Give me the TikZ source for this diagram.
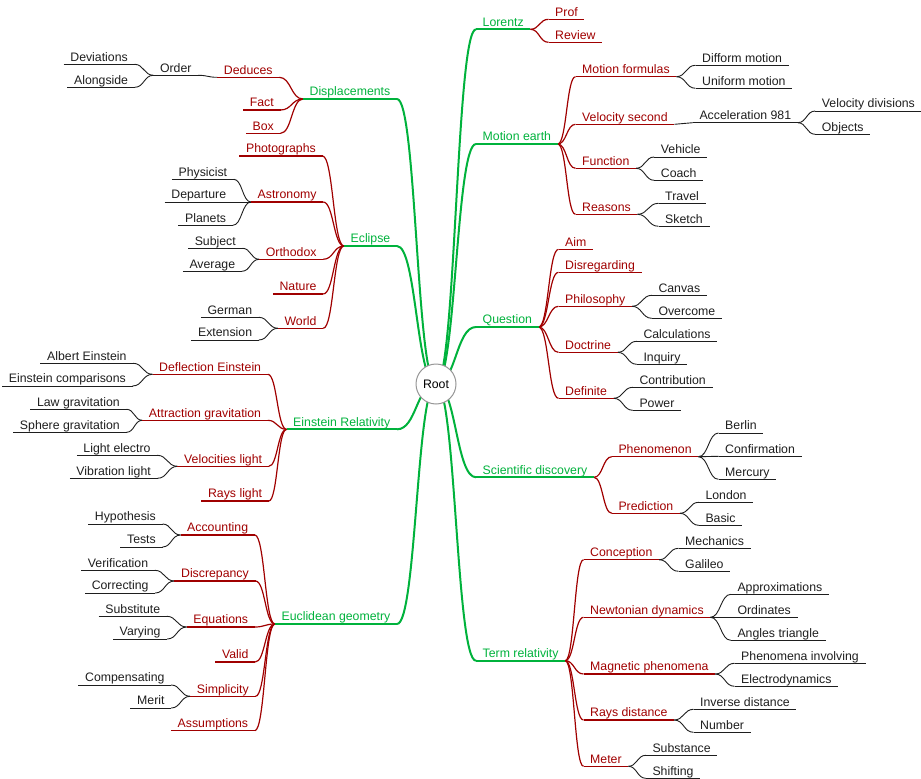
\documentclass[tikz,border=0pt]{standalone}
\usepackage{fontspec}
\setmainfont{Liberation Sans}
\usetikzlibrary{calc}
\pgfdeclarelayer{bg}
\pgfsetlayers{bg,main}
\definecolor{mmgreen}{RGB}{0,178,60}
\definecolor{mmred}{RGB}{160,0,0}
\definecolor{mmblack}{RGB}{30,30,30}
\definecolor{mmgray}{RGB}{150,150,150}
\tikzset{
  basenode/.style={inner xsep=6.5pt, inner ysep=0pt, text height=9pt, text depth=3pt, font=\fontsize{12.3}{14}\selectfont},
  gline/.style={draw=mmgreen, line width=2pt},
  rline/.style={draw=mmred, line width=1.2pt},
  kline/.style={draw=mmblack, line width=0.9pt},
  gn/.style={basenode, text=mmgreen, append after command={(\tikzlastnode.south west) edge[gline] (\tikzlastnode.south east)}},
  rn/.style={basenode, text=mmred, append after command={(\tikzlastnode.south west) edge[rline] (\tikzlastnode.south east)}},
  kn/.style={basenode, text=mmblack, append after command={(\tikzlastnode.south west) edge[kline] (\tikzlastnode.south east)}},
  rt/.style={anchor=south west},
  lf/.style={anchor=south east},
  rootnode/.style={circle, draw=mmgray, fill=white, line width=1pt, minimum size=40pt, inner sep=0pt, text=black, font=\fontsize{12.3}{14}\selectfont},
}
\newcommand\lnk[3]{\begin{pgfonlayer}{bg}\draw[#1] let \p1=(#2), \p2=(#3), \p3=($(\p1)!0.5!(\p2)$) in (\p1) .. controls (\x3,\y1) and (\x3,\y2) .. (\p2);\end{pgfonlayer}}
\newcommand\Rk[3]{\lnk{#1}{#2.south east}{#3.south west}}
\newcommand\Lk[3]{\lnk{#1}{#2.south west}{#3.south east}}
\begin{document}
\begin{tikzpicture}[x=1pt,y=-1pt]
\useasboundingbox (0,0) rectangle (921,779);
\node[rootnode] (root) at (436,384) {Root};
% ---------- right side ----------
\node[gn,rt] (lor) at (476,29.3) {Lorentz};
\node[gn,rt] (moe) at (476,144) {Motion earth};
\node[gn,rt] (que) at (476,327) {Question};
\node[gn,rt] (sci) at (476,477.3) {Scientific discovery};
\node[gn,rt] (ter) at (476,660.7) {Term relativity};
% Lorentz
\node[rn,rt] (prof) at (548.5,19.3) {Prof};
\node[rn,rt] (rev) at (548.5,42.3) {Review};
% Motion earth
\node[rn,rt] (mf) at (575.5,76.7) {Motion formulas};
\node[rn,rt] (vs) at (575.5,124.3) {Velocity second};
\node[rn,rt] (fn) at (575.5,168.3) {Function};
\node[rn,rt] (rs) at (575.5,214.3) {Reasons};
\node[kn,rt] (dm) at (695.5,65.3) {Difform motion};
\node[kn,rt] (um) at (695.5,88.3) {Uniform motion};
\node[kn,rt] (acc) at (692.8,122.7) {Acceleration 981};
\node[kn,rt] (vd) at (815.2,111) {Velocity divisions};
\node[kn,rt] (obj) at (815.2,134.3) {Objects};
\node[kn,rt] (veh) at (654.2,157) {Vehicle};
\node[kn,rt] (coa) at (654.2,180.3) {Coach};
\node[kn,rt] (tra) at (658.5,203.3) {Travel};
\node[kn,rt] (ske) at (658.5,226.3) {Sketch};
% Question
\node[rn,rt] (aim) at (558.5,249.3) {Aim};
\node[rn,rt] (dsr) at (558.5,272.3) {Disregarding};
\node[rn,rt] (phi) at (558.5,306.3) {Philosophy};
\node[rn,rt] (doc) at (558.5,352.3) {Doctrine};
\node[rn,rt] (def) at (558.5,398.3) {Definite};
\node[kn,rt] (can) at (651.8,295.3) {Canvas};
\node[kn,rt] (ove) at (651.8,318.3) {Overcome};
\node[kn,rt] (cal) at (636.8,341.3) {Calculations};
\node[kn,rt] (inq) at (636.8,364.3) {Inquiry};
\node[kn,rt] (con) at (632.8,387.3) {Contribution};
\node[kn,rt] (pow) at (632.8,410.3) {Power};
% Scientific discovery
\node[rn,rt] (phe) at (611.8,456.7) {Phenomenon};
\node[rn,rt] (pre) at (611.8,513.3) {Prediction};
\node[kn,rt] (ber) at (718.5,433) {Berlin};
\node[kn,rt] (cnf) at (718.5,456.3) {Confirmation};
\node[kn,rt] (mer) at (718.5,479.3) {Mercury};
\node[kn,rt] (lon) at (698.8,502.3) {London};
\node[kn,rt] (bas) at (698.8,525.3) {Basic};
% Term relativity
\node[rn,rt] (cpt) at (583.5,559.7) {Conception};
\node[rn,rt] (nd) at (583.5,617.3) {Newtonian dynamics};
\node[rn,rt] (mp) at (583.5,674) {Magnetic phenomena};
\node[rn,rt] (rd) at (583.5,720) {Rays distance};
\node[rn,rt] (met) at (583.5,766.3) {Meter};
\node[kn,rt] (mec) at (678.5,548.3) {Mechanics};
\node[kn,rt] (gal) at (678.5,571.3) {Galileo};
\node[kn,rt] (app) at (730.8,594.3) {Approximations};
\node[kn,rt] (ord) at (730.8,617.3) {Ordinates};
\node[kn,rt] (ang) at (730.8,640.3) {Angles triangle};
\node[kn,rt] (pin) at (734.5,663.3) {Phenomena involving};
\node[kn,rt] (ele) at (734.5,686.3) {Electrodynamics};
\node[kn,rt] (inv) at (693.5,709.3) {Inverse distance};
\node[kn,rt] (num) at (693.5,732.3) {Number};
\node[kn,rt] (sub) at (645.8,755.3) {Substance};
\node[kn,rt] (shi) at (645.8,778.3) {Shifting};
% ---------- left side ----------
\node[gn,lf] (dis) at (397,99) {Displacements};
\node[gn,lf] (ecl) at (397,246) {Eclipse};
\node[gn,lf] (ein) at (397,429.3) {Einstein Relativity};
\node[gn,lf] (euc) at (397,624) {Euclidean geometry};
% Displacements
\node[rn,lf] (ded) at (279.2,77.3) {Deduces};
\node[rn,lf] (fac) at (280.5,110) {Fact};
\node[rn,lf] (box) at (280.5,133.3) {Box};
\node[kn,lf] (ord2) at (198.2,75.3) {Order};
\node[kn,lf] (dev) at (134.5,64.3) {Deviations};
\node[kn,lf] (alo) at (134.8,87.3) {Alongside};
% Eclipse
\node[rn,lf] (pho) at (322.5,156) {Photographs};
\node[rn,lf] (ast) at (323.2,202) {Astronomy};
\node[rn,lf] (ort) at (323.2,259.3) {Orthodox};
\node[rn,lf] (nat) at (323.2,294) {Nature};
\node[rn,lf] (wor) at (323.2,328.3) {World};
\node[kn,lf] (phy) at (233.8,179.3) {Physicist};
\node[kn,lf] (dep) at (232.8,202) {Departure};
\node[kn,lf] (pla) at (232.8,225.3) {Planets};
\node[kn,lf] (sbj) at (242.5,248.3) {Subject};
\node[kn,lf] (ave) at (241.8,271.3) {Average};
\node[kn,lf] (ger) at (258.8,317.3) {German};
\node[kn,lf] (ext) at (258.8,340) {Extension};
% Einstein Relativity
\node[rn,lf] (dfe) at (267.8,374.3) {Deflection Einstein};
\node[rn,lf] (atg) at (267.8,420.3) {Attraction gravitation};
\node[rn,lf] (vel) at (268.8,466.3) {Velocities light};
\node[rn,lf] (ral) at (268.8,501) {Rays light};
\node[kn,lf] (alb) at (133.2,363.3) {Albert Einstein};
\node[kn,lf] (eco) at (132.5,386) {Einstein comparisons};
\node[kn,lf] (law) at (126.5,409.3) {Law gravitation};
\node[kn,lf] (sph) at (126.5,432.3) {Sphere gravitation};
\node[kn,lf] (lel) at (157.2,455.3) {Light electro};
\node[kn,lf] (vib) at (157.5,478.3) {Vibration light};
% Euclidean geometry
\node[rn,lf] (acn) at (254.8,535) {Accounting};
\node[rn,lf] (dcr) at (255.5,581) {Discrepancy};
\node[rn,lf] (equ) at (254.8,627) {Equations};
\node[rn,lf] (val) at (255.2,662) {Valid};
\node[rn,lf] (sim) at (255.5,696.3) {Simplicity};
\node[rn,lf] (asm) at (254.8,730.7) {Assumptions};
\node[kn,lf] (hyp) at (162.5,524) {Hypothesis};
\node[kn,lf] (tes) at (162.5,547) {Tests};
\node[kn,lf] (ver) at (154.8,570.3) {Verification};
\node[kn,lf] (cor) at (155.2,593) {Correcting};
\node[kn,lf] (sbt) at (166.8,616.3) {Substitute};
\node[kn,lf] (vry) at (167.2,639) {Varying};
\node[kn,lf] (cmp) at (171.2,685) {Compensating};
\node[kn,lf] (mrt) at (171.2,708) {Merit};
% ---------- connectors ----------
\lnk{gline}{root.center}{lor.south west}
\lnk{gline}{root.center}{moe.south west}
\lnk{gline}{root.center}{que.south west}
\lnk{gline}{root.center}{sci.south west}
\lnk{gline}{root.center}{ter.south west}
\lnk{gline}{root.center}{dis.south east}
\lnk{gline}{root.center}{ecl.south east}
\lnk{gline}{root.center}{ein.south east}
\lnk{gline}{root.center}{euc.south east}
\Rk{rline}{lor}{prof}\Rk{rline}{lor}{rev}
\Rk{rline}{moe}{mf}\Rk{rline}{moe}{vs}\Rk{rline}{moe}{fn}\Rk{rline}{moe}{rs}
\Rk{kline}{mf}{dm}\Rk{kline}{mf}{um}
\Rk{kline}{vs}{acc}\Rk{kline}{acc}{vd}\Rk{kline}{acc}{obj}
\Rk{kline}{fn}{veh}\Rk{kline}{fn}{coa}
\Rk{kline}{rs}{tra}\Rk{kline}{rs}{ske}
\Rk{rline}{que}{aim}\Rk{rline}{que}{dsr}\Rk{rline}{que}{phi}\Rk{rline}{que}{doc}\Rk{rline}{que}{def}
\Rk{kline}{phi}{can}\Rk{kline}{phi}{ove}
\Rk{kline}{doc}{cal}\Rk{kline}{doc}{inq}
\Rk{kline}{def}{con}\Rk{kline}{def}{pow}
\Rk{rline}{sci}{phe}\Rk{rline}{sci}{pre}
\Rk{kline}{phe}{ber}\Rk{kline}{phe}{cnf}\Rk{kline}{phe}{mer}
\Rk{kline}{pre}{lon}\Rk{kline}{pre}{bas}
\Rk{rline}{ter}{cpt}\Rk{rline}{ter}{nd}\Rk{rline}{ter}{mp}\Rk{rline}{ter}{rd}\Rk{rline}{ter}{met}
\Rk{kline}{cpt}{mec}\Rk{kline}{cpt}{gal}
\Rk{kline}{nd}{app}\Rk{kline}{nd}{ord}\Rk{kline}{nd}{ang}
\Rk{kline}{mp}{pin}\Rk{kline}{mp}{ele}
\Rk{kline}{rd}{inv}\Rk{kline}{rd}{num}
\Rk{kline}{met}{sub}\Rk{kline}{met}{shi}
\Lk{rline}{dis}{ded}\Lk{rline}{dis}{fac}\Lk{rline}{dis}{box}
\Lk{kline}{ded}{ord2}\Lk{kline}{ord2}{dev}\Lk{kline}{ord2}{alo}
\Lk{rline}{ecl}{pho}\Lk{rline}{ecl}{ast}\Lk{rline}{ecl}{ort}\Lk{rline}{ecl}{nat}\Lk{rline}{ecl}{wor}
\Lk{kline}{ast}{phy}\Lk{kline}{ast}{dep}\Lk{kline}{ast}{pla}
\Lk{kline}{ort}{sbj}\Lk{kline}{ort}{ave}
\Lk{kline}{wor}{ger}\Lk{kline}{wor}{ext}
\Lk{rline}{ein}{dfe}\Lk{rline}{ein}{atg}\Lk{rline}{ein}{vel}\Lk{rline}{ein}{ral}
\Lk{kline}{dfe}{alb}\Lk{kline}{dfe}{eco}
\Lk{kline}{atg}{law}\Lk{kline}{atg}{sph}
\Lk{kline}{vel}{lel}\Lk{kline}{vel}{vib}
\Lk{rline}{euc}{acn}\Lk{rline}{euc}{dcr}\Lk{rline}{euc}{equ}\Lk{rline}{euc}{val}\Lk{rline}{euc}{sim}\Lk{rline}{euc}{asm}
\Lk{kline}{acn}{hyp}\Lk{kline}{acn}{tes}
\Lk{kline}{dcr}{ver}\Lk{kline}{dcr}{cor}
\Lk{kline}{equ}{sbt}\Lk{kline}{equ}{vry}
\Lk{kline}{sim}{cmp}\Lk{kline}{sim}{mrt}
\end{tikzpicture}
\end{document}
